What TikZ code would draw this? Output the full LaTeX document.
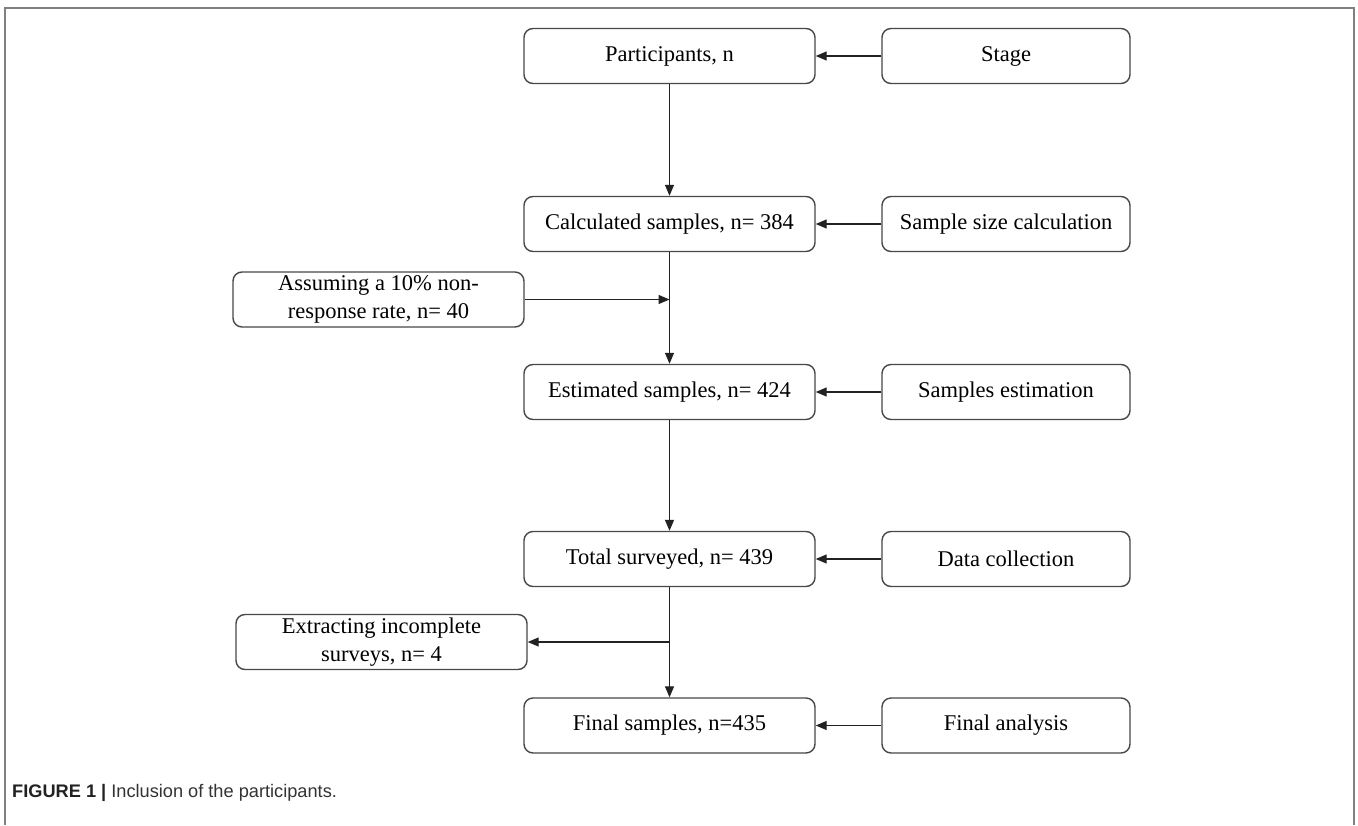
\documentclass[tikz,border=0pt]{standalone}
\usepackage{fontspec}
\setmainfont{Liberation Serif}
\newfontfamily\capfont{Liberation Sans}
\usetikzlibrary{arrows.meta}
\definecolor{boxgray}{HTML}{484848}
\definecolor{linegray}{HTML}{222222}
\definecolor{framegray}{HTML}{808080}
\definecolor{captext}{HTML}{333333}
\begin{document}
\begin{tikzpicture}[x=1pt,y=-1pt,
  box/.style={draw=boxgray, line width=1.4pt, rounded corners=9pt, minimum height=55pt, inner sep=0pt, align=center, font=\fontsize{22.5}{28}\selectfont, text=black},
  lbox/.style={box, minimum width=291pt},
  rbox/.style={box, minimum width=248pt},
  conn/.style={draw=linegray, line width=1.3pt, -{Triangle[length=11pt,width=9pt]}},
  frame/.style={draw=framegray, line width=1.2pt},
  captionstyle/.style={anchor=west, inner sep=0pt, font=\capfont\fontsize{18.2}{20}\selectfont, text=captext}]
\useasboundingbox (0,0) rectangle (1358,825);
\fill[white] (0,0) rectangle (1358,825);
\draw[frame] (5,825) -- (5,8) -- (1354,8) -- (1354,825);

\node[lbox] (p) at (669.5,56) {Participants, n};
\node[rbox] (stage) at (1006,56) {Stage};
\node[lbox] (c) at (669.5,224) {Calculated samples, n= 384};
\node[rbox] (ssc) at (1006,224) {Sample size calculation};
\node[lbox] (a) at (378.5,299.5) {Assuming a 10\% non-\\response rate, n= 40};
\node[lbox] (e) at (669.5,392) {Estimated samples, n= 424};
\node[rbox] (se) at (1006,392) {Samples estimation};
\node[lbox] (t) at (669.5,559) {Total surveyed, n= 439};
\node[rbox] (dc) at (1006,559) {Data collection};
\node[lbox] (x) at (381.5,642) {Extracting incomplete\\surveys, n= 4};
\node[lbox] (f) at (669.5,725.5) {Final samples, n=435};
\node[rbox] (fa) at (1006,725.5) {Final analysis};

\draw[conn] (stage) -- (p);
\draw[conn] (ssc) -- (c);
\draw[conn] (se) -- (e);
\draw[conn] (dc) -- (t);
\draw[conn] (fa) -- (f);

\draw[conn] (p) -- (c);
\draw[conn] (c) -- (e);
\coordinate (j1) at (c.south |- a.east);
\draw[conn] (a.east) -- (j1);
\draw[conn] (e) -- (t);
\draw[conn] (t) -- (f);
\coordinate (j2) at (t.south |- x.east);
\draw[conn] (j2) -- (x.east);

\node[captionstyle] (cap) at (12,793) {\textbf{\color{linegray}FIGURE 1 |} Inclusion of the participants.};
\end{tikzpicture}
\end{document}
